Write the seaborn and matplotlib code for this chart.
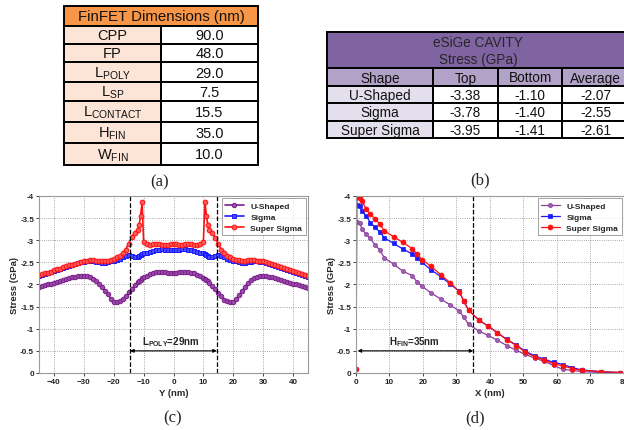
import matplotlib
matplotlib.use('Agg')
import matplotlib.pyplot as plt
import seaborn as sns
from matplotlib.patches import Rectangle

sns.set_style('white')
plt.rcParams['font.family'] = ['Liberation Sans', 'DejaVu Sans']
plt.rcParams['mathtext.fontset'] = 'custom'
plt.rcParams['mathtext.rm'] = 'Liberation Sans'
plt.rcParams['mathtext.bf'] = 'Liberation Sans:bold'
plt.rcParams['mathtext.it'] = 'Liberation Sans:italic'

# ---- table (a): FinFET dimensions
dim_names = ['CPP', 'FP', r'$\mathrm{L_{POLY}}$', r'$\mathrm{L_{SP}}$',
             r'$\mathrm{L_{CONTACT}}$', r'$\mathrm{H_{FIN}}$', r'$\mathrm{W_{FIN}}$']
dim_values = ['90.0', '48.0', '29.0', '7.5', '15.5', '35.0', '10.0']

# ---- table (b): eSiGe cavity stress
shapes = ['U-Shaped', 'Sigma', 'Super Sigma']
stress_top = [-3.38, -3.78, -3.95]
stress_bottom = [-1.10, -1.40, -1.41]
stress_avg = [-2.07, -2.55, -2.61]

# ---- plot (c): stress along channel (Y)
y_pos = [-45, -44, -43, -42, -41, -40, -39, -38, -37, -36, -35, -34, -33, -32, -31, -30,
         -29, -28, -27, -26, -25, -24, -23, -22, -21, -20, -19, -18, -17, -16, -15, -14,
         -13, -12, -11.5, -11, -10.5, -10, -9, -8, -7, -6, -5, -4, -3, -2, -1, 0,
         1, 2, 3, 4, 5, 6, 7, 8, 9, 10, 10.5, 11, 11.5, 12, 13, 14, 15, 16, 17, 18, 19, 20,
         21, 22, 23, 24, 25, 26, 27, 28, 29, 30, 31, 32, 33, 34, 35, 36, 37, 38, 39, 40,
         41, 42, 43, 44, 45]
c_ushaped = [-1.94, -1.96, -1.98, -2.00, -2.02, -2.04, -2.06, -2.08, -2.10, -2.12, -2.14, -2.16,
             -2.18, -2.19, -2.20, -2.20, -2.19, -2.17, -2.13, -2.08, -2.02, -1.94, -1.86, -1.78,
             -1.68, -1.61, -1.60, -1.62, -1.67, -1.74, -1.82, -1.90, -1.98, -2.05, -2.08, -2.11,
             -2.14, -2.16, -2.20, -2.23, -2.26, -2.28, -2.29, -2.29, -2.28, -2.27, -2.27, -2.27,
             -2.27, -2.28, -2.29, -2.29, -2.28, -2.27, -2.25, -2.22, -2.19, -2.15, -2.13, -2.10,
             -2.07, -2.04, -1.97, -1.89, -1.81, -1.73, -1.66, -1.62, -1.60, -1.61, -1.67, -1.77,
             -1.86, -1.95, -2.03, -2.09, -2.14, -2.18, -2.20, -2.20, -2.20, -2.18, -2.16, -2.14,
             -2.12, -2.10, -2.08, -2.06, -2.04, -2.02, -2.00, -1.98, -1.96, -1.95, -1.93]
c_sigma = [-2.20, -2.22, -2.24, -2.26, -2.28, -2.30, -2.33, -2.35, -2.37, -2.40, -2.42, -2.44,
           -2.46, -2.48, -2.50, -2.51, -2.52, -2.52, -2.52, -2.51, -2.50, -2.49, -2.49, -2.50,
           -2.52, -2.54, -2.56, -2.58, -2.61, -2.64, -2.66, -2.65, -2.62, -2.63, -2.65, -2.67,
           -2.68, -2.70, -2.72, -2.74, -2.76, -2.78, -2.79, -2.80, -2.79, -2.78, -2.78, -2.78,
           -2.78, -2.79, -2.80, -2.80, -2.79, -2.78, -2.76, -2.74, -2.72, -2.70, -2.68, -2.67,
           -2.65, -2.63, -2.62, -2.65, -2.66, -2.64, -2.61, -2.58, -2.56, -2.54, -2.52, -2.50,
           -2.49, -2.49, -2.50, -2.51, -2.52, -2.52, -2.51, -2.50, -2.48, -2.46, -2.44, -2.42,
           -2.40, -2.37, -2.35, -2.33, -2.30, -2.28, -2.26, -2.24, -2.22, -2.20, -2.17]
c_super = [-2.21, -2.23, -2.25, -2.27, -2.29, -2.32, -2.34, -2.36, -2.39, -2.41, -2.43, -2.45,
           -2.47, -2.49, -2.51, -2.53, -2.54, -2.55, -2.55, -2.54, -2.53, -2.53, -2.53, -2.54,
           -2.56, -2.58, -2.61, -2.65, -2.71, -2.79, -2.92, -3.07, -3.16, -3.24, -3.35, -3.55,
           -3.87, -2.97, -2.91, -2.90, -2.91, -2.91, -2.92, -2.90, -2.90, -2.90, -2.91, -2.91,
           -2.91, -2.90, -2.90, -2.91, -2.92, -2.91, -2.90, -2.90, -2.91, -2.97, -3.87, -3.55,
           -3.35, -3.24, -3.16, -3.06, -2.91, -2.79, -2.71, -2.65, -2.61, -2.58, -2.56, -2.55,
           -2.54, -2.54, -2.55, -2.55, -2.55, -2.54, -2.53, -2.52, -2.50, -2.48, -2.46, -2.44,
           -2.42, -2.40, -2.38, -2.35, -2.33, -2.31, -2.28, -2.26, -2.24, -2.22, -2.20]

# ---- plot (d): stress along fin height (X)
x_pos = [0.3, 1.1, 1.8, 3.0, 4.3, 5.6, 7.1, 8.5, 11.2, 14.0, 16.8, 18.2, 19.7, 22.4, 25.3,
         28.1, 30.8, 32.2, 33.6, 36.6, 39.4, 42.2, 45.0, 47.9, 50.5, 53.3, 56.2, 59.0, 61.8,
         64.6, 67.4, 73.1, 78.9]
x_pos_super = [0.0] + x_pos
d_ushaped = [-3.41, -3.39, -3.25, -3.14, -3.04, -2.90, -2.78, -2.60, -2.46, -2.30, -2.20, -2.06,
             -1.96, -1.81, -1.67, -1.54, -1.40, -1.26, -1.10, -0.95, -0.85, -0.74, -0.62, -0.51,
             -0.42, -0.34, -0.26, -0.17, -0.08, -0.06, -0.03, -0.01, 0.00]
d_sigma = [-3.80, -3.77, -3.65, -3.55, -3.40, -3.29, -3.19, -3.05, -2.93, -2.80, -2.69, -2.60,
           -2.50, -2.33, -2.18, -2.01, -1.85, -1.62, -1.42, -1.20, -1.06, -0.91, -0.76, -0.63,
           -0.49, -0.39, -0.31, -0.24, -0.19, -0.12, -0.07, -0.03, -0.01]
d_super = [-0.08, -3.98, -3.95, -3.89, -3.70, -3.59, -3.49, -3.36, -3.21, -3.08, -2.95, -2.81,
           -2.69, -2.56, -2.41, -2.22, -2.04, -1.84, -1.62, -1.42, -1.20, -1.06, -0.91, -0.75,
           -0.62, -0.47, -0.37, -0.29, -0.21, -0.16, -0.10, -0.06, -0.03, -0.01]

y_ticks = [0, -0.5, -1, -1.5, -2, -2.5, -3, -3.5, -4]
y_ticklabels = ['0', '-0.5', '-1', '-1.5', '-2', '-2.5', '-3', '-3.5', '-4']

purple = '#7a1f8a'
purple_d = '#8c3c9c'
blue = '#1a1aff'
red = '#ff1010'

fig = plt.figure(figsize=(6.24, 4.31), dpi=100)

# overlay axes in pixel coordinates for the two tables
tab = fig.add_axes([0, 0, 1, 1])
tab.set_xlim(0, 624)
tab.set_ylim(431, 0)
tab.axis('off')


def cell(x0, x1, y0, y1, face, text=None, size=10.5):
    tab.add_patch(Rectangle((x0, y0), x1 - x0, y1 - y0, facecolor=face,
                            edgecolor='black', lw=1.4, clip_on=False))
    if text is not None:
        tab.text((x0 + x1) / 2, (y0 + y1) / 2 + 0.5, text, ha='center', va='center',
                 fontsize=size, color='#111111')


# table (a)
a_cols = [64, 161, 258]
a_rows = [27, 45, 63, 83, 102, 123, 144, 166]
cell(a_cols[0], a_cols[2], 7, 27, '#f79646', 'FinFET Dimensions (nm)', 10.8)
for i, (nm, val) in enumerate(zip(dim_names, dim_values)):
    cell(a_cols[0], a_cols[1], a_rows[i], a_rows[i + 1], '#fce4d6', nm)
    cell(a_cols[1], a_cols[2], a_rows[i], a_rows[i + 1], 'white', val)

# table (b)
b_cols = [327, 433, 498, 562, 629]
b_rows = [69, 87, 104, 122, 139]
cell(b_cols[0], b_cols[4], 33, 69, '#8064a2')
tab.text((b_cols[0] + b_cols[4]) / 2, 43, 'eSiGe CAVITY', ha='center', va='center', fontsize=9.8)
tab.text((b_cols[0] + b_cols[4]) / 2, 60, 'Stress (GPa)', ha='center', va='center', fontsize=9.8)
for j, h in enumerate(['Shape', 'Top', 'Bottom', 'Average']):
    cell(b_cols[j], b_cols[j + 1], b_rows[0], b_rows[1], '#b3a2c7', h, 9.8)
for i, s in enumerate(shapes):
    r0, r1 = b_rows[i + 1], b_rows[i + 2]
    cell(b_cols[0], b_cols[1], r0, r1, '#e4dfec', s, 9.8)
    for j, v in enumerate([stress_top[i], stress_bottom[i], stress_avg[i]]):
        cell(b_cols[j + 1], b_cols[j + 2], r0, r1, 'white', f'{v:.2f}', 9.8)


def style_axes(ax, xlabel):
    ax.set_ylim(0, -4)
    ax.set_yticks(y_ticks)
    ax.set_yticklabels(y_ticklabels)
    ax.grid(True, ls=':', color='#8a8a8a', lw=0.6)
    for sp in ax.spines.values():
        sp.set_color('#9a9a9a')
        sp.set_linewidth(0.8)
    ax.tick_params(bottom=True, left=True, length=2, width=0.6, pad=1.5, labelsize=5.8,
                   colors='#222222')
    for lab in ax.get_xticklabels() + ax.get_yticklabels():
        lab.set_fontweight('bold')
    ax.set_xlabel(xlabel, fontsize=6.8, fontweight='bold', labelpad=2)
    ax.set_ylabel('Stress (GPa)', fontsize=6.8, fontweight='bold', labelpad=1)
    leg = ax.legend(loc='upper right', frameon=True, fancybox=False,
                    borderaxespad=0.3, handlelength=2.2, labelspacing=0.4,
                    prop={'weight': 'bold', 'size': 6})
    leg.get_frame().set_edgecolor('#777777')
    leg.get_frame().set_linewidth(0.6)


# plot (c)
ax_c = fig.add_axes([0.0625, 0.1323, 0.4311, 0.4107])
sns.lineplot(x=y_pos, y=c_ushaped, ax=ax_c, color=purple, marker='o', markersize=3.2,
             markerfacecolor='#9a4aaa', markeredgecolor=purple, markeredgewidth=0.7,
             lw=1.2, label='U-Shaped')
sns.lineplot(x=y_pos, y=c_sigma, ax=ax_c, color=blue, marker='s', markersize=3.2,
             markerfacecolor='#4a4aff', markeredgecolor=blue, markeredgewidth=0.7,
             lw=1.2, label='Sigma')
sns.lineplot(x=y_pos, y=c_super, ax=ax_c, color=red, marker='o', markersize=3.4,
             markerfacecolor='#ff5a5a', markeredgecolor=red, markeredgewidth=0.7,
             lw=1.2, label='Super Sigma')
ax_c.set_xlim(-45, 45)
ax_c.set_xticks([-40, -30, -20, -10, 0, 10, 20, 30, 40])
style_axes(ax_c, 'Y (nm)')
ax_c.axvline(-14.5, color='black', ls='--', lw=0.9)
ax_c.axvline(14.5, color='black', ls='--', lw=0.9)
ax_c.annotate('', xy=(14.5, -0.5), xytext=(-14.5, -0.5),
              arrowprops=dict(arrowstyle='<|-|>', color='black', lw=0.8, mutation_scale=5,
                              shrinkA=0, shrinkB=0))
ax_c.text(-1, -0.72, r'$\mathbf{L_{POLY}}$=29nm', ha='center', va='center',
          fontsize=7, fontweight='bold')

# plot (d)
ax_d = fig.add_axes([0.5705, 0.1323, 0.4295, 0.4107])
sns.lineplot(x=x_pos, y=d_ushaped, ax=ax_d, color=purple_d, marker='o', markersize=3,
             markerfacecolor='#a060b0', markeredgecolor=purple_d, markeredgewidth=0.5,
             lw=0.9, label='U-Shaped')
sns.lineplot(x=x_pos, y=d_sigma, ax=ax_d, color=blue, marker='s', markersize=3.2,
             markeredgecolor=blue, markeredgewidth=0.5, lw=0.9, label='Sigma')
sns.lineplot(x=x_pos_super, y=d_super, ax=ax_d, color=red, marker='o', markersize=3.6,
             markeredgecolor=red, markeredgewidth=0.5, lw=0.9, label='Super Sigma')
ax_d.set_xlim(0, 80)
ax_d.set_xticks([0, 10, 20, 30, 40, 50, 60, 70, 80])
style_axes(ax_d, 'X (nm)')
ax_d.axvline(35, color='black', ls='--', lw=0.9)
ax_d.annotate('', xy=(35, -0.5), xytext=(0.5, -0.5),
              arrowprops=dict(arrowstyle='<|-|>', color='black', lw=0.8, mutation_scale=5,
                              shrinkA=0, shrinkB=0))
ax_d.text(17.4, -0.72, r'$\mathbf{H_{FIN}}$=35nm', ha='center', va='center',
          fontsize=7, fontweight='bold')

# panel letters
for lbl, px, py in [('(a)', 160, 182), ('(b)', 480, 180), ('(c)', 173, 418), ('(d)', 475, 418)]:
    fig.text(px / 624, 1 - py / 431, lbl, family='Liberation Serif', fontsize=12,
             ha='center', va='center')

fig.savefig('out.png', dpi=100)
